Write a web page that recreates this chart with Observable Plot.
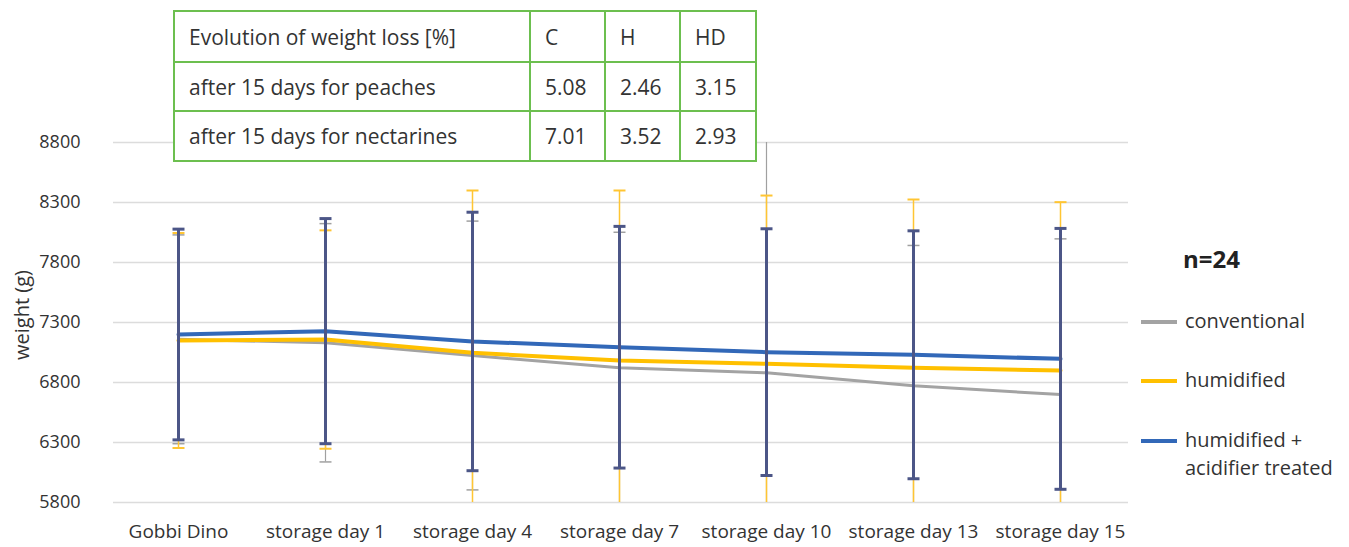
<!DOCTYPE html>
<html><head><meta charset="utf-8">
<script src="https://cdn.jsdelivr.net/npm/d3@7"></script>
<script src="https://cdn.jsdelivr.net/npm/@observablehq/plot@0.6"></script>
<style>
html,body{margin:0;padding:0;background:#fff;}
#wrap{position:relative;width:1349px;height:547px;overflow:hidden;font-family:"Open Sans",sans-serif;color:#333;}
#chart{position:absolute;left:0;top:0;}
#tbl{position:absolute;left:173px;top:10px;border-collapse:collapse;background:#fff;font-family:"Open Sans",sans-serif;font-size:21px;color:#333;table-layout:fixed;width:582px;}
#tbl td{border:2px solid #6cbf4f;padding:0 0 0 14px;white-space:nowrap;}
#ylabel{position:absolute;left:21px;top:315px;transform:translate(-50%,-50%) rotate(-90deg);font-size:20px;white-space:nowrap;}
.leg{position:absolute;left:1141px;font-size:20px;font-family:"Open Sans",sans-serif;line-height:28px;}
.sw{position:absolute;left:0;width:36px;height:4px;}
.lt{position:absolute;left:44px;white-space:nowrap;}
#n{position:absolute;left:1183px;top:242px;font-size:24px;font-weight:bold;font-family:"Open Sans",sans-serif;color:#222;}
</style>
</head><body>
<div id="wrap">
<div id="chart"></div>
<div id="ylabel">weight (g)</div>
<div id="tblholder"></div>
<div id="n">n=24</div>
<div id="legend"></div>
</div>
<script>
const categories = ["Gobbi Dino","storage day 1","storage day 4","storage day 7","storage day 10","storage day 13","storage day 15"];
const conventional = [7160, 7131, 7025, 6922, 6881, 6772, 6700];
const humidified   = [7150, 7158, 7047, 6983, 6956, 6922, 6900];
const treated      = [7200, 7228, 7142, 7094, 7053, 7031, 6997];
const sdConventional = [870, 993, 1120, 1130, 2000, 1170, 1297];
const sdHumidified   = [896, 910, 1353, 1417, 1402, 1403, 1403];
const sdTreated      = [878, 938, 1077, 1007, 1028, 1033, 1087];
const yTicks = [5800, 6300, 6800, 7300, 7800, 8300, 8800];
const seriesNames = ["conventional", "humidified", "humidified + acidifier treated"];
const tableHeader = ["Evolution of weight loss [%]", "C", "H", "HD"];
const tableRows = [
  ["after 15 days for peaches", "5.08", "2.46", "3.15"],
  ["after 15 days for nectarines", "7.01", "3.52", "2.93"]
];

const series = [
  {name: seriesNames[0], values: conventional, sd: sdConventional, line: "#a3a3a3", lw: 3, bar: "#a0a0a0", bw: 1.2, cw: 1.5},
  {name: seriesNames[1], values: humidified, sd: sdHumidified, line: "#ffc000", lw: 4, bar: "#ffc533", bw: 1.5, cw: 2},
  {name: seriesNames[2], values: treated, sd: sdTreated, line: "#3268b8", lw: 4, bar: "#4c5687", bw: 3, cw: 3}
];

const capSymbol = {
  draw(context, size) {
    const w = Math.sqrt(size / Math.PI);
    context.moveTo(-w, 0);
    context.lineTo(w, 0);
  }
};

const marks = [
  Plot.ruleY(yTicks, {stroke: "#dcdcdc", strokeWidth: 1.6, insetLeft: 10, insetRight: 7})
];
for (const s of series) {
  const rows = categories.map((c, i) => ({cat: c, v: s.values[i]}));
  marks.push(Plot.line(rows, {x: "cat", y: "v", stroke: s.line, strokeWidth: s.lw, strokeLinejoin: "round"}));
}
for (const s of series) {
  const rows = categories.map((c, i) => ({cat: c, lo: s.values[i] - s.sd[i], hi: s.values[i] + s.sd[i]}));
  const caps = rows.flatMap(r => [{cat: r.cat, y: r.lo}, {cat: r.cat, y: r.hi}]);
  marks.push(Plot.ruleX(rows, {x: "cat", y1: "lo", y2: "hi", stroke: s.bar, strokeWidth: s.bw, clip: true}));
  marks.push(Plot.dot(caps, {x: "cat", y: "y", symbol: capSymbol, r: 6, fill: "none", stroke: s.bar, strokeWidth: s.cw, clip: true}));
}
marks.push(Plot.axisY(yTicks, {tickSize: 0, tickPadding: 23, fontSize: 18, label: null, tickFormat: d => String(d)}));
marks.push(Plot.axisX({tickSize: 0, tickPadding: 22, fontSize: 19, label: null}));

const chart = Plot.plot({
  width: 1349, height: 547,
  marginTop: 142, marginBottom: 45, marginLeft: 103, marginRight: 214,
  style: {fontFamily: "'Open Sans', sans-serif", color: "#333", background: "transparent", overflow: "visible"},
  x: {type: "point", domain: categories, padding: 0.5, label: null},
  y: {domain: [5800, 8800], label: null},
  marks
});
document.getElementById("chart").appendChild(chart);

// table
const tbl = document.createElement("table");
tbl.id = "tbl";
const colW = [356, 75, 75, 76];
const cg = document.createElement("colgroup");
colW.forEach(w => { const c = document.createElement("col"); c.style.width = w + "px"; cg.appendChild(c); });
tbl.appendChild(cg);
const rowH = [51, 49, 50];
[tableHeader, ...tableRows].forEach((r, ri) => {
  const tr = document.createElement("tr");
  tr.style.height = rowH[ri] + "px";
  r.forEach(t => { const td = document.createElement("td"); td.textContent = t; tr.appendChild(td); });
  tbl.appendChild(tr);
});
document.getElementById("tblholder").appendChild(tbl);

// legend
const legend = document.getElementById("legend");
const legY = [307, 366, 426];
series.forEach((s, i) => {
  const d = document.createElement("div");
  d.className = "leg";
  d.style.top = legY[i] + "px";
  const sw = document.createElement("div");
  sw.className = "sw"; sw.style.background = s.line; sw.style.top = "13px";
  const t = document.createElement("div");
  t.className = "lt";
  if (i === 2) { t.innerHTML = "humidified +<br>acidifier treated"; } else { t.textContent = s.name; }
  d.appendChild(sw); d.appendChild(t);
  legend.appendChild(d);
});
</script>
</body></html>
